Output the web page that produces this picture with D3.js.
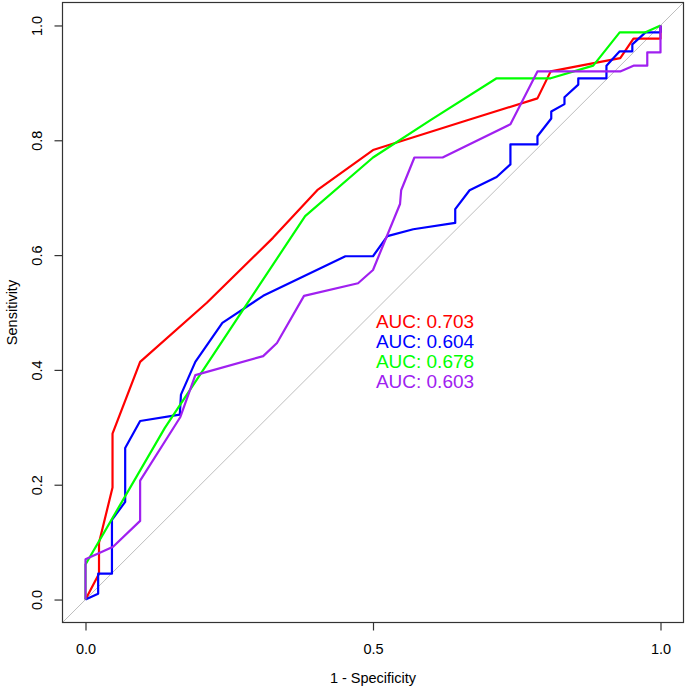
<!DOCTYPE html>
<html>
<head>
<meta charset="utf-8">
<script src="https://cdn.jsdelivr.net/npm/d3@7"></script>
<style>
    body { margin: 0; background: #fff; }
    svg text { font-family: "Liberation Sans", Arial, sans-serif; fill: #000; }
</style>
</head>
<body>
<svg id="roc" width="685" height="689"></svg>
<script>
// ROC curves, [1 - specificity, sensitivity]
var rocRed = [[0, 0], [0.0235, 0.045], [0.0235, 0.099], [0.047, 0.195], [0.047, 0.289],
    [0.095, 0.414], [0.211, 0.517], [0.326, 0.630], [0.403, 0.713], [0.500, 0.783],
    [0.664, 0.835], [0.786, 0.873], [0.809, 0.920], [0.861, 0.930], [0.930, 0.943],
    [0.953, 0.977], [1, 0.977], [1, 1]];
var rocBlue = [[0, 0], [0.022, 0.010], [0.022, 0.045], [0.046, 0.045], [0.046, 0.139],
    [0.069, 0.170], [0.069, 0.264], [0.095, 0.311], [0.164, 0.322], [0.166, 0.357],
    [0.191, 0.414], [0.238, 0.482], [0.309, 0.529], [0.452, 0.598], [0.500, 0.598],
    [0.525, 0.633], [0.570, 0.645], [0.643, 0.656], [0.643, 0.680], [0.668, 0.713],
    [0.715, 0.736], [0.739, 0.758], [0.739, 0.793], [0.786, 0.793], [0.786, 0.807],
    [0.810, 0.838], [0.810, 0.850], [0.833, 0.863], [0.833, 0.875], [0.857, 0.897],
    [0.857, 0.908], [0.906, 0.908], [0.906, 0.930], [0.929, 0.955], [0.951, 0.955],
    [0.951, 0.967], [0.974, 0.988], [1, 0.988], [1, 1]];
var rocGreen = [[0, 0], [0, 0.061], [0.138, 0.299], [0.382, 0.668], [0.500, 0.770],
    [0.600, 0.835], [0.715, 0.908], [0.809, 0.908], [0.883, 0.930], [0.929, 0.988],
    [0.974, 0.988], [1, 1]];
var rocPurple = [[0, 0], [0, 0.070], [0.048, 0.092], [0.095, 0.137], [0.095, 0.207],
    [0.165, 0.318], [0.191, 0.391], [0.309, 0.424], [0.333, 0.447], [0.380, 0.529],
    [0.474, 0.551], [0.500, 0.574], [0.547, 0.689], [0.549, 0.713], [0.572, 0.770],
    [0.621, 0.770], [0.739, 0.828], [0.786, 0.920], [0.930, 0.920], [0.953, 0.930],
    [0.977, 0.930], [0.977, 0.953], [1, 0.953], [1, 1]];

var aucLabels = ["AUC: 0.703", "AUC: 0.604", "AUC: 0.678", "AUC: 0.603"];
var curveColors = ["#ff0000", "#0000ff", "#00ff00", "#a020f0"];
var xTicks = [0, 0.5, 1];
var yTicks = [0, 0.2, 0.4, 0.6, 0.8, 1];

var svg = d3.select("#roc");

// R style plot region: data range padded by 4% on each side
var x = d3.scaleLinear().domain([-0.04, 1.04]).range([62.5, 683.5]);
var y = d3.scaleLinear().domain([-0.04, 1.04]).range([622.5, 2.5]);

// chance line
svg.append("line")
    .attr("x1", x(-0.04)).attr("y1", y(-0.04))
    .attr("x2", x(1.04)).attr("y2", y(1.04))
    .attr("stroke", "#bebebe").attr("stroke-width", 1);

var line = d3.line().x(function(d) { return x(d[0]); }).y(function(d) { return y(d[1]); });

[rocRed, rocBlue, rocGreen, rocPurple].forEach(function(curve, i) {
    svg.append("path")
        .attr("d", line(curve))
        .attr("fill", "none")
        .attr("stroke", curveColors[i])
        .attr("stroke-width", 2.2)
        .attr("stroke-linejoin", "round");
});

// box
svg.append("rect")
    .attr("x", x(-0.04)).attr("y", y(1.04))
    .attr("width", x(1.04) - x(-0.04)).attr("height", y(-0.04) - y(1.04))
    .attr("fill", "none").attr("stroke", "#333").attr("stroke-width", 1.2);

// axes
var xAxis = svg.append("g")
    .attr("transform", "translate(0," + y(-0.04) + ")")
    .call(d3.axisBottom(x).tickValues(xTicks).tickFormat(d3.format(".1f")).tickSize(8).tickPadding(13));
var yAxis = svg.append("g")
    .attr("transform", "translate(" + x(-0.04) + ",0)")
    .call(d3.axisLeft(y).tickValues(yTicks).tickFormat(d3.format(".1f")).tickSize(8));

[xAxis, yAxis].forEach(function(g) {
    g.select(".domain").remove();
    g.selectAll(".tick line").attr("stroke", "#333").attr("stroke-width", 1.2);
    g.selectAll("text").style("font-size", "14.5px").attr("fill", "#000");
});

// y tick labels rotated like R's default las = 0
yAxis.selectAll(".tick text")
    .attr("x", null).attr("dy", null)
    .attr("text-anchor", "middle")
    .attr("transform", "translate(-21,0) rotate(-90)");

svg.append("text")
    .attr("x", x(0.5)).attr("y", 683)
    .attr("text-anchor", "middle")
    .style("font-size", "14.5px")
    .text("1 - Specificity");

svg.append("text")
    .attr("transform", "translate(17," + y(0.5) + ") rotate(-90)")
    .attr("text-anchor", "middle")
    .style("font-size", "14.5px")
    .text("Sensitivity");

// AUC labels
var aucY = d3.scaleLinear().domain([0, 1]).range([y(0.485), y(0.45)]);
svg.selectAll(".auc")
    .data(aucLabels)
    .enter().append("text")
    .attr("class", "auc")
    .attr("x", x(0.505))
    .attr("y", function(d, i) { return aucY(i) + 6.5; })
    .style("font-size", "19px")
    .style("fill", function(d, i) { return curveColors[i]; })
    .text(function(d) { return d; });
</script>
</body>
</html>
